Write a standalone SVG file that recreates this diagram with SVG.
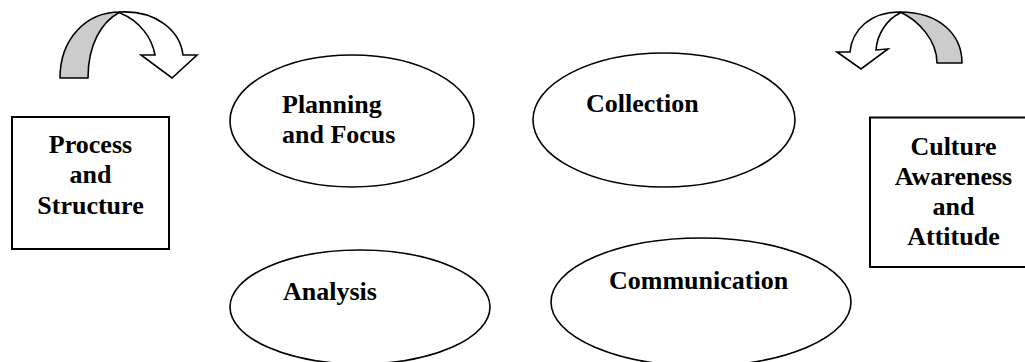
<svg xmlns="http://www.w3.org/2000/svg" width="1025" height="362" viewBox="0 0 1025 362">
<style>
  .t { font-family: "Liberation Serif", "Times New Roman", serif; font-weight: bold; font-size: 26px; fill: #000; }
  .c { text-anchor: middle; }
  .box { fill: #fff; stroke: #000; stroke-width: 2; }
  .ell { fill: #fff; stroke: #000; stroke-width: 1.6; }
  .back { fill: #cccccc; stroke: #000; stroke-width: 1.6; stroke-linejoin: round; }
  .front { fill: #fff; stroke: #000; stroke-width: 1.6; stroke-linejoin: miter; }
</style>
<rect width="1025" height="362" fill="#fff"/>
<g id="connectors">
  <g id="arrow-left">
    <path class="back" d="M60,78 C60,40 85,12 120,12 C101,22 88,45 88,78 Z"/>
    <path class="front" d="M120,12 C155,10 180,30 183,55 L197,55 L172,78 L141,55 L155,55 C152,38 140,21 120,13 Z"/>
  </g>
  <g id="arrow-right">
    <path class="back" d="M962,63 C962,35 940,12 900,12 C918,20 937,40 937,63 Z"/>
    <path class="front" d="M900,12 C870,12 852,30 850,52 L837,52 L861,69 L888,49 L876,50 C877,35 886,20 900,13 Z"/>
  </g>
</g>
<g id="process-structure">
  <rect class="box" x="12" y="117" width="157" height="132"/>
  <text class="t c" x="90.5" y="153">Process</text>
  <text class="t c" x="90.5" y="183">and</text>
  <text class="t c" x="90.5" y="214">Structure</text>
</g>
<g id="culture-awareness">
  <rect class="box" x="870" y="117.5" width="170" height="149.5"/>
  <text class="t c" x="953.5" y="155">Culture</text>
  <text class="t c" x="953.5" y="185">Awareness</text>
  <text class="t c" x="953.5" y="215">and</text>
  <text class="t c" x="953.5" y="245">Attitude</text>
</g>
<g id="planning">
  <ellipse class="ell" cx="352" cy="121" rx="122" ry="66"/>
  <text class="t" x="282" y="113">Planning</text>
  <text class="t" x="282" y="143">and Focus</text>
</g>
<g id="collection">
  <ellipse class="ell" cx="664" cy="120" rx="131" ry="67"/>
  <text class="t" x="586" y="112">Collection</text>
</g>
<g id="analysis">
  <ellipse class="ell" cx="360" cy="307" rx="130" ry="57"/>
  <text class="t" x="283" y="300">Analysis</text>
</g>
<g id="communication">
  <ellipse class="ell" cx="701" cy="302" rx="150" ry="64"/>
  <text class="t" x="609" y="289">Communication</text>
</g>
</svg>
